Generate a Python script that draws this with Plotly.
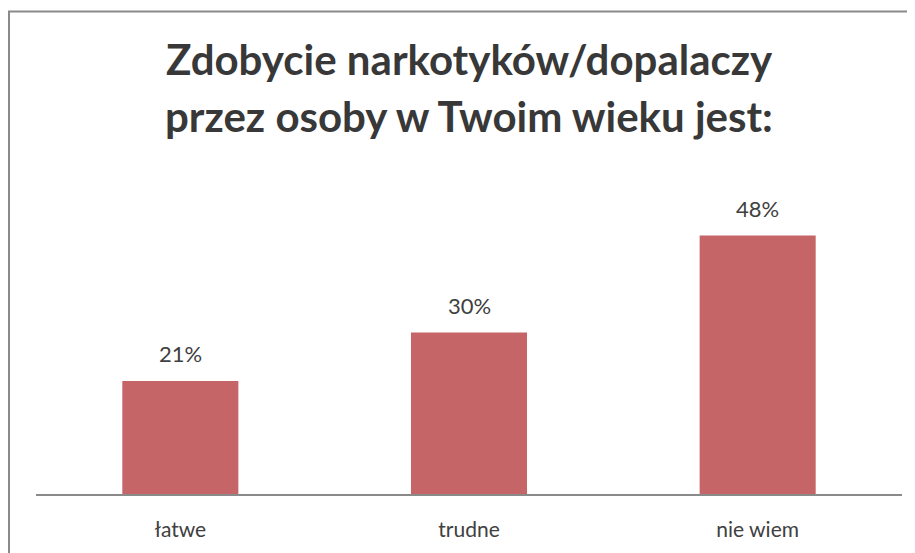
import plotly.graph_objects as go

categories = ["łatwe", "trudne", "nie wiem"]
values = [21, 30, 48]
labels = ["21%", "30%", "48%"]
title_lines = ["Zdobycie narkotyków/dopalaczy", "przez osoby w Twoim wieku jest:"]

# page has an 8px body margin, so the figure is sized to fit inside the window
OFF = 8
W, H = 915 - OFF, 553 - OFF
ml, mr, mt, mb = 28, 13, 163, 56
pw, ph = W - ml - mr, H - mt - mb

def px_x(page_x):
    return (page_x - OFF - ml) / pw

def px_y(page_y):
    return (H - mb - (page_y - OFF)) / ph

bar_color = "#c66567"
text_color = "#404040"
font_family = "Lato, 'Open Sans', sans-serif"

fig = go.Figure()
fig.add_trace(go.Bar(
    x=categories, y=values, width=0.402,
    marker=dict(color=bar_color, line=dict(width=0)),
    hoverinfo="skip",
))

for c, v, t in zip(categories, values, labels):
    fig.add_annotation(x=c, y=v, text=t, showarrow=False, yanchor="bottom",
                       yshift=12, font=dict(size=22, color=text_color, family=font_family))

for line, yc in zip(title_lines, [58, 115]):
    fig.add_annotation(xref="paper", yref="paper", x=px_x(469), y=px_y(yc),
                       text="<b>%s</b>" % line, showarrow=False,
                       xanchor="center", yanchor="middle",
                       font=dict(size=42, color="#383838", family=font_family))

# outer border (top and left visible)
fig.add_shape(type="line", xref="paper", yref="paper",
              x0=px_x(8), x1=px_x(930), y0=px_y(10), y1=px_y(10),
              line=dict(color="#8a8a8a", width=2))
fig.add_shape(type="line", xref="paper", yref="paper",
              x0=px_x(9), x1=px_x(9), y0=px_y(10), y1=px_y(570),
              line=dict(color="#8a8a8a", width=2))

fig.update_layout(
    width=W, height=H,
    margin=dict(l=ml, r=mr, t=mt, b=mb, pad=0),
    paper_bgcolor="white", plot_bgcolor="white",
    showlegend=False,
    font=dict(family=font_family, color=text_color),
    xaxis=dict(showline=True, linecolor="#8a8a8a", linewidth=1.5, ticks="",
               ticklabelstandoff=16,
               tickfont=dict(size=21, color=text_color), showgrid=False),
    yaxis=dict(range=[0, 60], visible=False, showgrid=False, zeroline=False),
)

fig.write_html("out.html")
